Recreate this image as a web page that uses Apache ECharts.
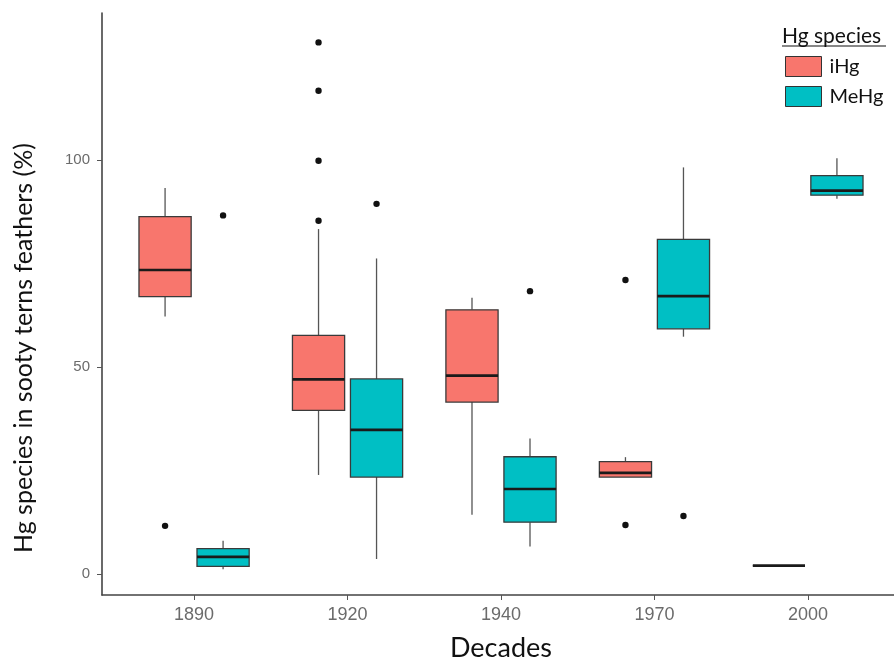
<!DOCTYPE html>
<html><head><meta charset="utf-8">
<script src="https://cdn.jsdelivr.net/npm/echarts@6/dist/echarts.min.js"></script>
<style>html,body{margin:0;padding:0;background:#fff}#c{width:894px;height:662px}</style>
</head><body><div id="c"></div>
<script>
const decades = ['1890', '1920', '1940', '1970', '2000'];
const speciesNames = ['iHg', 'MeHg'];
// [lower whisker, Q1, median, Q3, upper whisker] per decade
const iHgBoxes = [
  [62.2, 67.0, 73.4, 86.3, 93.2],
  [23.9, 39.5, 47.0, 57.6, 83.3],
  [14.3, 41.5, 47.9, 63.8, 66.7],
  [23.4, 23.4, 24.4, 27.1, 28.2],
  [2.0, 2.0, 2.0, 2.0, 2.0]
];
const meHgBoxes = [
  [1.1, 1.8, 4.1, 6.1, 8.0],
  [3.6, 23.4, 34.8, 47.1, 76.2],
  [6.6, 12.5, 20.5, 28.3, 32.7],
  [57.3, 59.2, 67.1, 80.8, 98.2],
  [90.6, 91.5, 92.6, 96.2, 100.4]
];
// outliers: [decade index, value]
const iHgOutliers = [[0, 11.6], [1, 128.4], [1, 116.7], [1, 99.8], [1, 85.3], [3, 71.0], [3, 11.8]];
const meHgOutliers = [[0, 86.6], [1, 89.4], [2, 68.3], [3, 14.0]];
const yTickValues = [0, 50, 100];

const COLORS = ['#F8766D', '#00BFC4'];
const DODGE = 0.189;
const BOXW = 0.34;

function boxData(arr) { return arr.map((b, i) => [i + 1].concat(b)); }
function outData(arr) { return arr.map(o => [o[0] + 1, o[1]]); }

function boxRenderer(sign, fill) {
  return function (params, api) {
    const x = api.value(0);
    const unit = api.size([1, 0])[0];
    const cx = api.coord([x, 0])[0] + sign * DODGE * unit;
    const half = BOXW * unit / 2;
    const y = k => api.coord([x, api.value(k)])[1];
    const yMin = y(1), yQ1 = y(2), yMed = y(3), yQ3 = y(4), yMax = y(5);
    const wStyle = { stroke: '#555', lineWidth: 1.3 };
    return {
      type: 'group',
      children: [
        { type: 'line', shape: { x1: cx, y1: yQ3, x2: cx, y2: yMax }, style: wStyle },
        { type: 'line', shape: { x1: cx, y1: yQ1, x2: cx, y2: yMin }, style: wStyle },
        { type: 'rect', shape: { x: cx - half, y: yQ3, width: 2 * half, height: yQ1 - yQ3 },
          style: { fill: fill, stroke: '#3a3a3a', lineWidth: 1.3 } },
        { type: 'line', shape: { x1: cx - half, y1: yMed, x2: cx + half, y2: yMed },
          style: { stroke: '#1a1a1a', lineWidth: 2.6 } }
      ]
    };
  };
}
function outRenderer(sign) {
  return function (params, api) {
    const x = api.value(0);
    const unit = api.size([1, 0])[0];
    const p = api.coord([x, api.value(1)]);
    return { type: 'circle', shape: { cx: p[0] + sign * DODGE * unit, cy: p[1], r: 3.2 },
      style: { fill: '#111' } };
  };
}

const chart = echarts.init(document.getElementById('c'));
chart.setOption({
  animation: false,
  backgroundColor: '#fff',
  grid: { left: 102, top: 13, width: 798, bottom: 67, containLabel: false, outerBoundsMode: 'none' },
  xAxis: {
    type: 'value', min: 0.4, max: 5.6,
    name: 'Decades', nameLocation: 'middle', nameGap: 40,
    nameTextStyle: { fontFamily: 'Lato', fontSize: 27, color: '#111' },
    axisLine: { onZero: false, lineStyle: { color: '#444', width: 1.6 } },
    axisTick: { show: true, length: 5, customValues: [1, 2, 3, 4, 5], lineStyle: { color: '#555' } },
    axisLabel: { customValues: [1, 2, 3, 4, 5], formatter: v => decades[Math.round(v) - 1],
      fontFamily: 'Liberation Sans', fontSize: 18, color: '#6b6b6b', margin: 11 },
    splitLine: { show: false }
  },
  yAxis: {
    type: 'value', min: -5.1, max: 135.5,
    name: 'Hg species in sooty terns feathers (%)', nameLocation: 'middle', nameGap: 66,
    nameTextStyle: { fontFamily: 'Lato', fontSize: 25, color: '#111', padding: [0, 88, 0, 0] },
    axisLine: { show: true, onZero: false, lineStyle: { color: '#444', width: 1.6 } },
    axisTick: { show: true, length: 5, customValues: yTickValues, lineStyle: { color: '#555' } },
    axisLabel: { customValues: yTickValues, fontFamily: 'Liberation Sans', fontSize: 15, color: '#6b6b6b', margin: 12 },
    splitLine: { show: false }
  },
  legend: {
    orient: 'vertical', left: 785, top: 56, padding: 0, itemWidth: 36, itemHeight: 20, itemGap: 9,
    data: speciesNames, icon: 'rect',
    itemStyle: { borderColor: '#333', borderWidth: 1 },
    textStyle: { fontFamily: 'Lato', fontSize: 20, color: '#111', padding: [0, 0, 0, 3] }
  },
  graphic: [
    { type: 'text', left: 782, top: 26, style: { text: 'Hg species', font: '21px Lato', fill: '#111' } },
    { type: 'line', shape: { x1: 782, y1: 46, x2: 886, y2: 46 }, style: { stroke: '#111', lineWidth: 1.2 } }
  ],
  series: [
    { name: speciesNames[0], type: 'custom', renderItem: boxRenderer(-1, COLORS[0]),
      itemStyle: { color: COLORS[0] }, encode: { x: 0, y: [1, 2, 3, 4, 5] }, data: boxData(iHgBoxes) },
    { name: speciesNames[1], type: 'custom', renderItem: boxRenderer(1, COLORS[1]),
      itemStyle: { color: COLORS[1] }, encode: { x: 0, y: [1, 2, 3, 4, 5] }, data: boxData(meHgBoxes) },
    { name: 'iHg outliers', type: 'custom', renderItem: outRenderer(-1),
      encode: { x: 0, y: 1 }, data: outData(iHgOutliers) },
    { name: 'MeHg outliers', type: 'custom', renderItem: outRenderer(1),
      encode: { x: 0, y: 1 }, data: outData(meHgOutliers) }
  ]
});
</script></body></html>
